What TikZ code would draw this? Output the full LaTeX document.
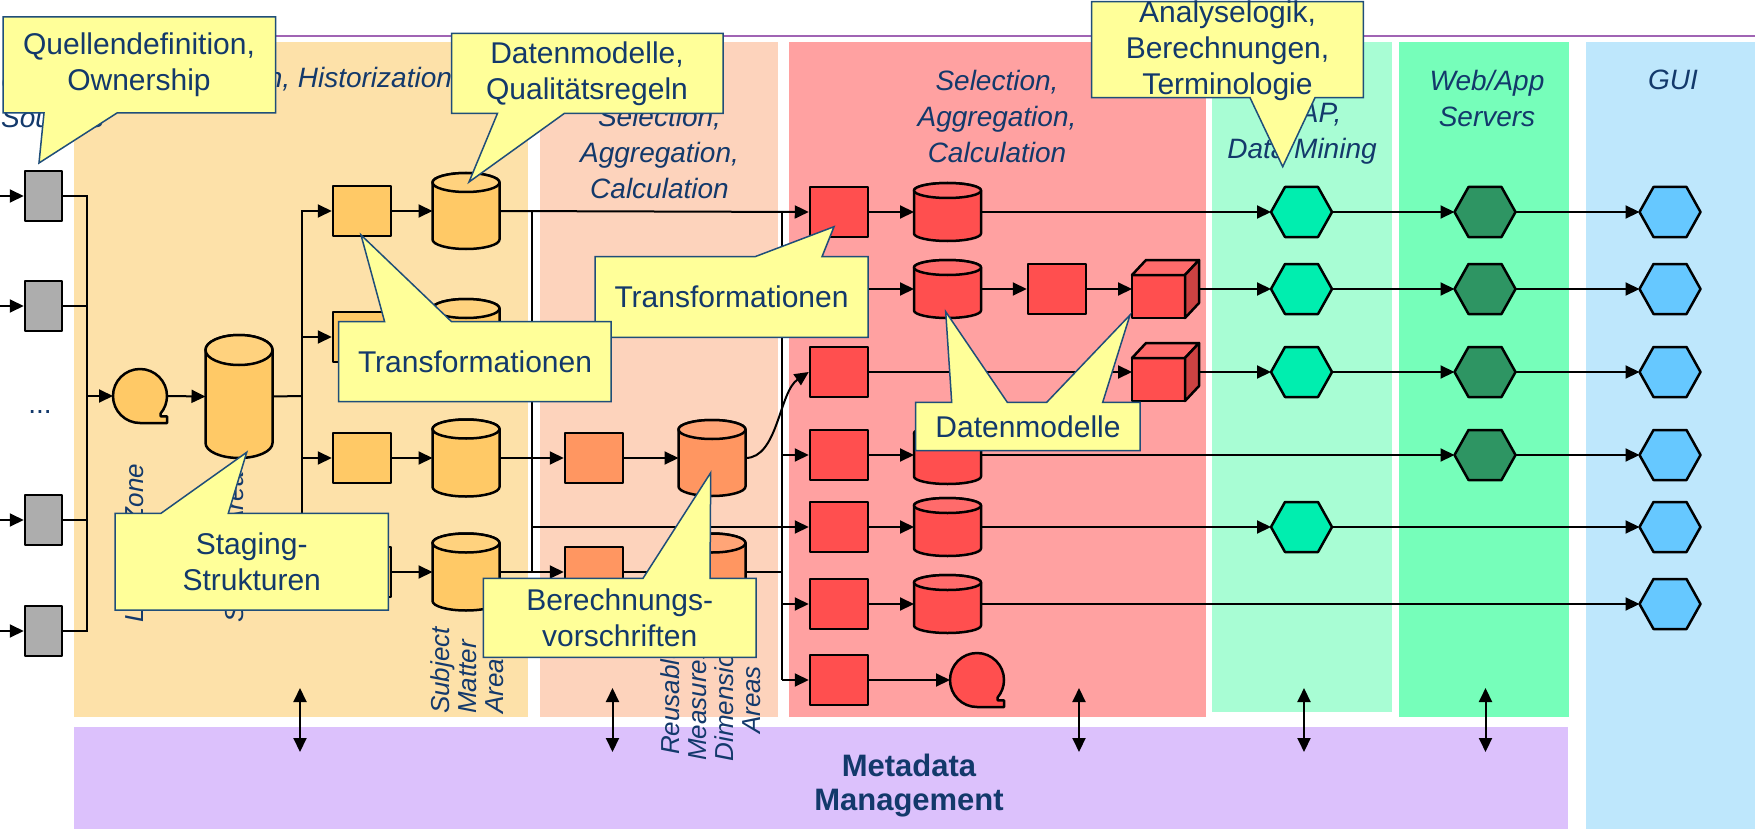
\documentclass[tikz,border=0pt]{standalone}
\usepackage{fontspec}
\setmainfont{Liberation Sans}
\usetikzlibrary{arrows.meta,calc}

\definecolor{colOrangeBg}{HTML}{FDE1A9}
\definecolor{colSalmonBg}{HTML}{FDD3BC}
\definecolor{colRedBg}{HTML}{FFA1A1}
\definecolor{colTealBg}{HTML}{A8FDD4}
\definecolor{colGreenBg}{HTML}{76FEBA}
\definecolor{colBlueBg}{HTML}{BEE7FC}
\definecolor{colMetaBg}{HTML}{DCC1FC}
\definecolor{colTopLine}{HTML}{A064B4}
\definecolor{colGrey}{HTML}{ADADAD}
\definecolor{colOrange}{HTML}{FFC966}
\definecolor{colOrangeTop}{HTML}{FFD27E}
\definecolor{colSalmon}{HTML}{FF9661}
\definecolor{colSalmonTop}{HTML}{FFA577}
\definecolor{colRed}{HTML}{FF4F4F}
\definecolor{colRedTop}{HTML}{FF6B6B}
\definecolor{colRedSide}{HTML}{CC4242}
\definecolor{colTeal}{HTML}{00EEAF}
\definecolor{colDkGreen}{HTML}{2E9563}
\definecolor{colSky}{HTML}{66C8FF}
\definecolor{colNote}{HTML}{FFFF99}
\definecolor{colNoteLine}{HTML}{1F4E79}
\definecolor{colNavy}{HTML}{13396B}

\tikzset{
  wire/.style={line width=2pt, draw=black},
  conn/.style={wire, -{Triangle[length=14pt,width=13pt]}},
  both/.style={wire, {Triangle[length=14pt,width=13pt]}-{Triangle[length=14pt,width=13pt]}},
  hull/.style={line width=2.5pt, draw=black, line join=round},
  slot/.style={inner sep=0pt, outer sep=0pt},
  srcbox/.style={hull, fill=colGrey, minimum width=37pt, minimum height=50pt, inner sep=0pt},
  procbox/.style={hull, minimum width=58pt, minimum height=50pt, inner sep=0pt},
  collabel/.style={text=colNavy, font=\fontsize{28}{36}\selectfont\itshape, align=center},
  sidelabel/.style={text=colNavy, font=\fontsize{26}{27}\selectfont\itshape, rotate=90, inner sep=0pt},
  notetext/.style={text=colNavy, font=\fontsize{30}{36}\selectfont, align=center},
  note/.style={fill=colNote, draw=colNoteLine, line width=1.5pt, line join=miter},
}

% database drum: name, cx, cy, width, height, lid radius, body colour, lid colour
\newcommand\drawdrum[8]{%
  \node[slot, minimum width=#4pt, minimum height=#5pt] (#1) at (#2,#3) {};
  \pgfmathsetmacro\drumL{#2-#4/2}%
  \pgfmathsetmacro\drumR{#2+#4/2}%
  \pgfmathsetmacro\drumT{#3-#5/2+#6}%
  \pgfmathsetmacro\drumB{#3+#5/2-#6}%
  \pgfmathsetmacro\drumRx{#4/2}%
  \filldraw[hull, fill=#7] (\drumL,\drumT) -- (\drumL,\drumB)
    arc[start angle=180, end angle=0, x radius=\drumRx, y radius=#6]
    -- (\drumR,\drumT)
    arc[start angle=0, end angle=-180, x radius=\drumRx, y radius=#6] -- cycle;
  \filldraw[hull, fill=#8] (#2,\drumT) ellipse[x radius=\drumRx, y radius=#6];
}

% sequential store (tape): name, cx, cy, radius, colour
\newcommand\drawtape[5]{%
  \pgfmathsetmacro\tapeD{2*#4}%
  \node[slot, circle, minimum size=\tapeD pt] (#1) at (#2,#3) {};
  \pgfmathsetmacro\tapeX{#2+#4}%
  \pgfmathsetmacro\tapeY{#3+#4}%
  \pgfmathsetmacro\tapeN{#3+0.643*#4+3}%
  \filldraw[hull, fill=#5] (#2,\tapeY) arc[start angle=90, end angle=400, radius=#4]
    -- ++(0,3) -- (\tapeX,\tapeN) -- (\tapeX,\tapeY) -- cycle;
}

% cube: name, cx, cy
\newcommand\drawcube[3]{%
  \node[slot, minimum width=67pt, minimum height=58pt] (#1) at (#2,#3) {};
  \pgfmathsetmacro\cbL{#2-33.5}%
  \pgfmathsetmacro\cbLL{#2-19.5}%
  \pgfmathsetmacro\cbF{#2+19.5}%
  \pgfmathsetmacro\cbR{#2+33.5}%
  \pgfmathsetmacro\cbT{#3-29}%
  \pgfmathsetmacro\cbU{#3-14}%
  \pgfmathsetmacro\cbS{#3+14}%
  \pgfmathsetmacro\cbB{#3+29}%
  \filldraw[hull, fill=colRed] (\cbL,\cbU) rectangle (\cbF,\cbB);
  \filldraw[hull, fill=colRedTop] (\cbL,\cbU) -- (\cbLL,\cbT) -- (\cbR,\cbT) -- (\cbF,\cbU) -- cycle;
  \filldraw[hull, fill=colRedSide] (\cbF,\cbU) -- (\cbR,\cbT) -- (\cbR,\cbS) -- (\cbF,\cbB) -- cycle;
}

% hexagon: name, cx, cy, colour
\newcommand\drawhex[4]{%
  \node[slot, minimum width=61pt, minimum height=50pt] (#1) at (#2,#3) {};
  \filldraw[hull, fill=#4] ($(#1.center)+(-30.5,0)$) -- ++(14,-25) -- ++(33,0)
    -- ($(#1.center)+(30.5,0)$) -- ++(-14,25) -- ++(-33,0) -- cycle;
}

\begin{document}
\begin{tikzpicture}[x=1pt, y=-1pt]
\useasboundingbox (0,0) rectangle (1755,829);

% layer backgrounds
\fill[colOrangeBg] (74,42) rectangle (528,717);
\fill[colSalmonBg] (540,42) rectangle (778,717);
\fill[colRedBg] (789,42) rectangle (1206,717);
\fill[colTealBg] (1212,42) rectangle (1392,712);
\fill[colGreenBg] (1399,42) rectangle (1569,717);
\fill[colBlueBg] (1586,42) rectangle (1755,829);
\fill[colMetaBg] (74,727) rectangle (1568,829);
\draw[colTopLine, line width=2pt] (74,36) -- (1755,36);

% layer captions
\node[collabel, align=left, anchor=west, inner sep=0pt] (lblSrc) at (1,99) {Operational\\Sources};
\node[collabel] (lblStg) at (301,80) {Integration, Historization};
\node[collabel] (lblMart) at (659.5,152) {Selection,\\Aggregation,\\Calculation};
\node[collabel] (lblCube) at (997,116) {Selection,\\Aggregation,\\Calculation};
\node[collabel] (lblOlap) at (1302,115) {Reporting,\\OLAP,\\Data Mining};
\node[collabel] (lblWeb) at (1487,98) {Web/App\\Servers};
\node[collabel] (lblGui) at (1673,80) {GUI};
\node[text=colNavy, font=\fontsize{31}{34}\selectfont\bfseries, align=center] (lblMeta) at (909,786) {Metadata\\Management};

\node[sidelabel, anchor=west] (lblLanding) at (137,623) {Landing Zone};
\node[sidelabel, anchor=west] (lblStaging) at (237,623) {Staging Area};
\node[sidelabel, anchor=west, align=left] (lblSubject) at (467,714) {Subject\\Matter\\Areas};
\node[sidelabel, align=center] (lblReuse) at (711,700) {Reusable\\Measures/\\Dimension\\Areas};

% sources
\node[srcbox] (src1) at (43.5,196) {};
\node[srcbox] (src2) at (43.5,306) {};
\node[srcbox] (src3) at (43.5,520) {};
\node[srcbox] (src4) at (43.5,631) {};
\node[text=colNavy, font=\fontsize{28}{30}\selectfont] (dots) at (40,412) {...};

% staging layer
\drawtape{land}{140}{396}{27}{colOrange}
\drawdrum{stg}{239}{396.5}{67}{123}{15}{colOrange}{colOrangeTop}

\node[procbox, fill=colOrange] (osqA) at (362,211) {};
\node[procbox, fill=colOrange] (osqB) at (362,337) {};
\node[procbox, fill=colOrange] (osqC) at (362,458) {};
\node[procbox, fill=colOrange] (osqD) at (362,572) {};
\drawdrum{ocylA}{466}{211}{67}{76}{9.5}{colOrange}{colOrangeTop}
\drawdrum{ocylB}{466}{337}{67}{76}{9.5}{colOrange}{colOrangeTop}
\drawdrum{ocylC}{466}{458}{67}{77}{9.5}{colOrange}{colOrangeTop}
\drawdrum{ocylD}{466}{572}{67}{77}{9.5}{colOrange}{colOrangeTop}

% reusable measures layer
\node[procbox, fill=colSalmon] (ssq1) at (594,458) {};
\node[procbox, fill=colSalmon] (ssq2) at (594,572) {};
\drawdrum{scyl1}{712}{458}{67}{76}{9.5}{colSalmon}{colSalmonTop}
\drawdrum{scyl2}{712}{572}{67}{77}{9.5}{colSalmon}{colSalmonTop}

% data mart layer
\node[procbox, fill=colRed] (rsq1) at (839,212) {};
\node[procbox, fill=colRed] (rsq3) at (839,372) {};
\node[procbox, fill=colRed] (rsq4) at (839,455) {};
\node[procbox, fill=colRed] (rsq5) at (839,527) {};
\node[procbox, fill=colRed] (rsq6) at (839,604) {};
\node[procbox, fill=colRed] (rsq7) at (839,680) {};
\node[procbox, fill=colRed] (rsq2) at (1057,289) {};
\drawdrum{rcyl1}{947.5}{212}{67}{58}{7.5}{colRed}{colRedTop}
\drawdrum{rcyl2}{947.5}{289}{67}{58}{7.5}{colRed}{colRedTop}
\drawdrum{rcyl4}{947.5}{455}{67}{58}{7.5}{colRed}{colRedTop}
\drawdrum{rcyl5}{947.5}{527}{67}{58}{7.5}{colRed}{colRedTop}
\drawdrum{rcyl6}{947.5}{604}{67}{58}{7.5}{colRed}{colRedTop}
\drawcube{cube2}{1165.5}{289}
\drawcube{cube3}{1165.5}{372}
\drawtape{report}{977}{680}{27}{colRed}

% analysis, server and GUI layers
\drawhex{t1}{1301.5}{212}{colTeal}
\drawhex{t2}{1301.5}{289}{colTeal}
\drawhex{t3}{1301.5}{372}{colTeal}
\drawhex{t5}{1301.5}{527}{colTeal}
\drawhex{g1}{1485}{212}{colDkGreen}
\drawhex{g2}{1485}{289}{colDkGreen}
\drawhex{g3}{1485}{372}{colDkGreen}
\drawhex{g4}{1485}{455}{colDkGreen}
\drawhex{u1}{1670}{212}{colSky}
\drawhex{u2}{1670}{289}{colSky}
\drawhex{u3}{1670}{372}{colSky}
\drawhex{u4}{1670}{455}{colSky}
\drawhex{u5}{1670}{527}{colSky}
\drawhex{u6}{1670}{604}{colSky}

% junction points of the collecting lines
\coordinate (busA) at (87,396);
\coordinate (busB) at (302,396);
\coordinate (j1) at (532,211);
\coordinate (j2) at (532,572);
\coordinate (k1) at (782,211);
\coordinate (k2) at (782,680);

% inputs
\foreach \s/\y in {src1/196, src2/306, src3/520, src4/631}{
  \coordinate (in-\s) at (0,\y);
  \draw[conn] (in-\s) -- (\s.west);
  \draw[wire] (\s.east) -| (busA);
}
\draw[conn] (busA) -- (land.west);
\draw[conn] (land.east) -- (stg.west);
\draw[wire] (stg.east) -- (busB);
\foreach \n in {osqA, osqB, osqC, osqD}{
  \draw[conn] (busB) |- (\n.west);
}
\draw[conn] (osqA) -- (ocylA);
\draw[conn] (osqB) -- (ocylB);
\draw[conn] (osqC) -- (ocylC);
\draw[conn] (osqD) -- (ocylD);

% into the reusable layer and the marts
\draw[wire] (j1) -- (j2);
\draw[wire] (k1) -- (k2);
\draw[conn] (ocylA.east) -- (rsq1.west);
\draw[wire] (ocylB.east) -- (ocylB.east -| j1);
\draw[conn] (ocylC.east) -- (ssq1.west);
\draw[conn] (ocylD.east) -- (ssq2.west);
\draw[conn] (ssq1) -- (scyl1);
\draw[conn] (ssq2) -- (scyl2);
\draw[conn] (scyl1.east) .. controls (778,458) and (779,392) .. (rsq3.west);
\draw[wire] (scyl2.east) -- (scyl2.east -| k1);
\draw[conn] (j1 |- rsq5.west) -- (rsq5.west);
\draw[conn] (k1 |- rcyl2.west) -- (rcyl2.west);
\draw[conn] (k1 |- rsq4.west) -- (rsq4.west);
\draw[conn] (k1 |- rsq6.west) -- (rsq6.west);
\draw[conn] (k1 |- rsq7.west) -- (rsq7.west);

% mart rows
\draw[conn] (rsq1) -- (rcyl1);
\draw[conn] (rcyl1.east) -- (t1.west);
\draw[conn] (t1.east) -- (g1.west);
\draw[conn] (g1.east) -- (u1.west);

\draw[conn] (rcyl2) -- (rsq2);
\draw[conn] (rsq2) -- (cube2.west);
\draw[conn] (cube2.east) -- (t2.west);
\draw[conn] (t2.east) -- (g2.west);
\draw[conn] (g2.east) -- (u2.west);

\draw[conn] (rsq3.east) -- (cube3.west);
\draw[conn] (cube3.east) -- (t3.west);
\draw[conn] (t3.east) -- (g3.west);
\draw[conn] (g3.east) -- (u3.west);

\draw[conn] (rsq4) -- (rcyl4);
\draw[conn] (rcyl4.east) -- (g4.west);
\draw[conn] (g4.east) -- (u4.west);

\draw[conn] (rsq5) -- (rcyl5);
\draw[conn] (rcyl5.east) -- (t5.west);
\draw[conn] (t5.east) -- (u5.west);

\draw[conn] (rsq6) -- (rcyl6);
\draw[conn] (rcyl6.east) -- (u6.west);

\draw[conn] (rsq7.east) -- (report.west);

% metadata exchange
\foreach \x/\k in {300/a, 612.5/b, 1079/c, 1304/d, 1485.5/e}{
  \coordinate (meta-\k-up) at (\x,688);
  \coordinate (meta-\k-dn) at (\x,752);
  \draw[both] (meta-\k-up) -- (meta-\k-dn);
}

% annotations
\filldraw[note] (3,17) -- (275.5,17) -- (275.5,113) -- (117,113) -- (39,163) -- (44,113) -- (3,113) -- cycle;
\node[notetext] (noteSrc) at (139,65) {Quellendefinition,\\Ownership};

\filldraw[note] (451.6,33.3) -- (723,33.3) -- (723,113.3) -- (564.5,113.3) -- (469,182) -- (497.5,113.3) -- (451.6,113.3) -- cycle;
\node[notetext] (noteModel) at (587,74) {Datenmodelle,\\Qualitätsregeln};

\filldraw[note] (595,256.7) -- (755,256.7) -- (834,226.7) -- (822,256.7) -- (868,256.7) -- (868,337.3) -- (595,337.3) -- cycle;
\node[notetext] (noteTransB) at (731.5,297) {Transformationen};

\filldraw[note] (338.7,321.7) -- (384.6,321.7) -- (361,235) -- (451.6,321.7) -- (611,321.7) -- (611,401.7) -- (338.7,401.7) -- cycle;
\node[notetext] (noteTransA) at (475,361.7) {Transformationen};

\filldraw[note] (115,513.3) -- (161,513.3) -- (246.7,452.3) -- (228.3,513.3) -- (388.3,513.3) -- (388.3,610) -- (115,610) -- cycle;
\node[notetext] (noteStage) at (251.7,561.7) {Staging-\\Strukturen};

\filldraw[note] (483.3,578.3) -- (643,578.3) -- (710.7,472.7) -- (710,578.3) -- (756,578.3) -- (756,657.3) -- (483.3,657.3) -- cycle;
\node[notetext] (noteCalc) at (619.7,618) {Berechnungs-\\vorschriften};

\filldraw[note] (915.7,402.3) -- (951.7,402.3) -- (945.7,311.7) -- (1007.3,402.3) -- (1046.7,402.3) -- (1130,315) -- (1102.7,402.3) -- (1140,402.3) -- (1140,450.7) -- (915.7,450.7) -- cycle;
\node[notetext] (noteMart) at (1028,426.5) {Datenmodelle};

\filldraw[note] (1091.7,1.7) -- (1363.3,1.7) -- (1363.3,97.7) -- (1315,97.7) -- (1282.7,166.7) -- (1250,97.7) -- (1091.7,97.7) -- cycle;
\node[notetext] (noteLogic) at (1227.5,51) {Analyselogik,\\Berechnungen,\\Terminologie};

\end{tikzpicture}
\end{document}
